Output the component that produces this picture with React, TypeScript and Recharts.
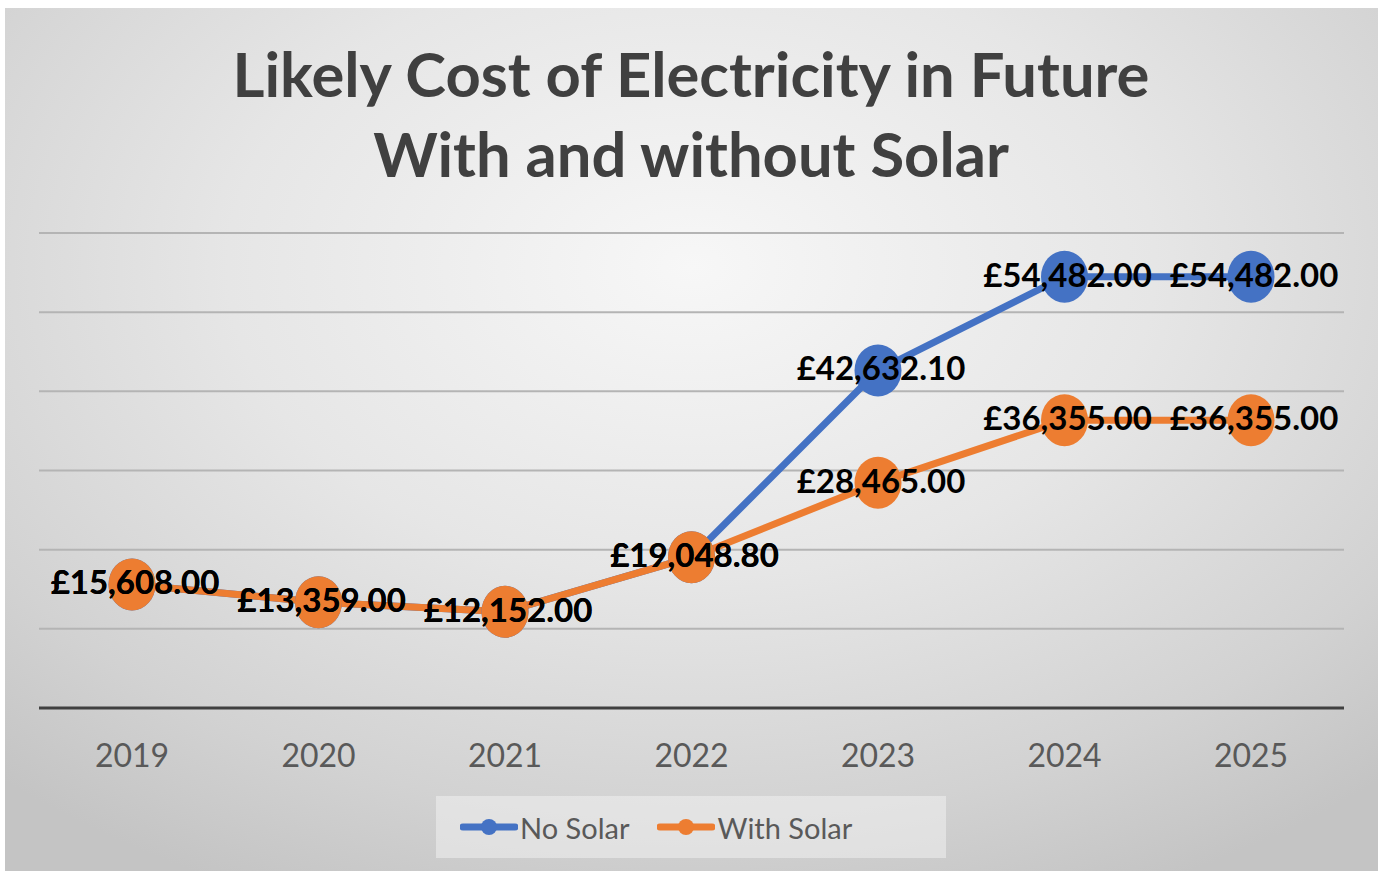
import React from 'react';
import { LineChart, Line, XAxis, YAxis, CartesianGrid, ReferenceLine, LabelList } from 'recharts';

const years = ['2019', '2020', '2021', '2022', '2023', '2024', '2025'];
const noSolar = [15608, 13359, 12152, 19048.8, 42632.1, 54482, 54482];
const withSolar = [15608, 13359, 12152, 19048.8, 28465, 36355, 36355];
const yTicks = [0, 10000, 20000, 30000, 40000, 50000, 60000];
const seriesNames = ['No Solar', 'With Solar'];

const data = years.map((year, i) => ({ year, noSolar: noSolar[i], withSolar: withSolar[i] }));

const FONT = 'Lato, "Open Sans", sans-serif';
const BLUE = '#4472C4';
const ORANGE = '#ED7D31';

const fmt = (v: number) =>
  '£' + v.toLocaleString('en-GB', { minimumFractionDigits: 2, maximumFractionDigits: 2 });

const ValueLabel = (props: any) => {
  const { x, y, value } = props;
  return (
    <text x={x + 3} y={y} dy={10} textAnchor="middle" fontFamily={FONT} fontWeight={700} fontSize={33} fill="#000">
      {fmt(value)}
    </text>
  );
};

// Excel's markers come out slightly taller than wide in the source image
const makeDot = (color: string) => (props: any) => {
  const { cx, cy, index } = props;
  if (cx == null || cy == null) return <g key={index} />;
  return <ellipse key={index} cx={cx} cy={cy} rx={23.5} ry={26} fill={color} />;
};

const YearTick = (props: any) => {
  const { x, payload } = props;
  return (
    <text x={x} y={759} textAnchor="middle" fontFamily={FONT} fontSize={32} fill="#595959">
      {payload.value}
    </text>
  );
};

const LegendBox = () => (
  <div
    style={{
      position: 'absolute',
      left: 431,
      top: 788,
      width: 510,
      height: 62,
      background: 'rgba(240,240,240,0.55)',
      display: 'flex',
      alignItems: 'center',
      fontFamily: FONT,
      fontSize: 29,
      color: '#595959',
    }}
  >
    {[BLUE, ORANGE].map((color, i) => (
      <div key={seriesNames[i]} style={{ display: 'flex', alignItems: 'center', marginLeft: i === 0 ? 24 : 28 }}>
        <svg width={58} height={20} style={{ marginRight: 2 }}>
          <line x1={3} y1={10} x2={55} y2={10} stroke={color} strokeWidth={7} strokeLinecap="round" />
          <circle cx={29} cy={10} r={8} fill={color} />
        </svg>
        <span>{seriesNames[i]}</span>
      </div>
    ))}
  </div>
);

export default function App() {
  return (
    <div style={{ position: 'absolute', left: 0, top: 0, width: 1384, height: 871, background: '#fff' }}>
      <div
        style={{
          position: 'absolute',
          left: 5,
          top: 8,
          width: 1373,
          height: 863,
          background: 'radial-gradient(ellipse 75% 80% at 50% 30%, #f7f7f7 0%, #e6e6e6 45%, #d2d2d2 80%, #c4c4c4 100%)',
        }}
      >
        <svg width={1373} height={200} style={{ position: 'absolute', left: 0, top: 0 }}>
          <text x={686} y={89} textAnchor="middle" fontFamily={FONT} fontWeight={700} fontSize={61.5} fill="#404040">
            Likely Cost of Electricity in Future
          </text>
          <text x={686} y={169} textAnchor="middle" fontFamily={FONT} fontWeight={700} fontSize={61.5} fill="#404040">
            With and without Solar
          </text>
        </svg>
        <LineChart
          width={1373}
          height={863}
          data={data}
          margin={{ top: 225, right: 34, bottom: 133, left: 34 }}
          style={{ position: 'absolute', left: 0, top: 0 }}
        >
          <CartesianGrid horizontal vertical={false} stroke="#b4b4b4" strokeWidth={2} />
          <XAxis
            dataKey="year"
            padding={{ left: 93, right: 93 }}
            axisLine={false}
            tickLine={false}
            tick={<YearTick />}
            interval={0}
            height={30}
          />
          <YAxis hide domain={[0, 60000]} ticks={yTicks} />
          <ReferenceLine y={0} stroke="#404040" strokeWidth={3} />
          <Line
            dataKey="noSolar"
            name={seriesNames[0]}
            stroke={BLUE}
            strokeWidth={7}
            dot={makeDot(BLUE)}
            activeDot={false}
            isAnimationActive={false}
          >
            <LabelList dataKey="noSolar" content={<ValueLabel />} />
          </Line>
          <Line
            dataKey="withSolar"
            name={seriesNames[1]}
            stroke={ORANGE}
            strokeWidth={7}
            dot={makeDot(ORANGE)}
            activeDot={false}
            isAnimationActive={false}
          >
            <LabelList dataKey="withSolar" content={<ValueLabel />} />
          </Line>
        </LineChart>
        <LegendBox />
      </div>
    </div>
  );
}
